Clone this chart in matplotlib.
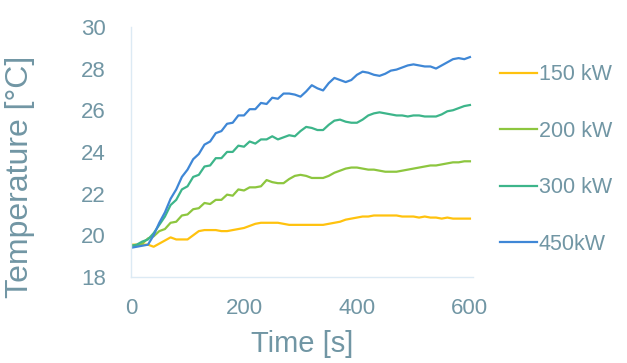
import numpy as np
import matplotlib
matplotlib.use("Agg")
import matplotlib.pyplot as plt

# time axis, seconds (read every 10 s)
t = list(range(0, 601, 10))

# temperatures in degC
temp_150 = [19.55, 19.55, 19.55, 19.55, 19.45, 19.60, 19.75, 19.90, 19.80, 19.80,
            19.80, 20.00, 20.20, 20.25, 20.25, 20.25, 20.20, 20.20, 20.25, 20.30,
            20.35, 20.45, 20.55, 20.60, 20.60, 20.60, 20.60, 20.55, 20.50, 20.50,
            20.50, 20.50, 20.50, 20.50, 20.50, 20.55, 20.60, 20.65, 20.75, 20.80,
            20.85, 20.90, 20.90, 20.95, 20.95, 20.95, 20.95, 20.95, 20.90, 20.90,
            20.90, 20.85, 20.90, 20.85, 20.85, 20.80, 20.85, 20.80, 20.80, 20.80,
            20.80]
temp_200 = [19.50, 19.50, 19.60, 19.85, 19.95, 20.20, 20.30, 20.60, 20.65, 20.95,
            21.00, 21.25, 21.30, 21.55, 21.50, 21.70, 21.70, 21.95, 21.90, 22.20,
            22.15, 22.30, 22.30, 22.35, 22.65, 22.55, 22.50, 22.50, 22.70, 22.85,
            22.90, 22.85, 22.75, 22.75, 22.75, 22.85, 23.00, 23.10, 23.20, 23.25,
            23.25, 23.20, 23.15, 23.15, 23.10, 23.05, 23.05, 23.05, 23.10, 23.15,
            23.20, 23.25, 23.30, 23.35, 23.35, 23.40, 23.45, 23.50, 23.50, 23.55,
            23.55]
temp_300 = [19.50, 19.55, 19.70, 19.80, 20.10, 20.50, 20.90, 21.45, 21.70, 22.20,
            22.35, 22.80, 22.90, 23.30, 23.35, 23.70, 23.70, 24.00, 24.00, 24.30,
            24.25, 24.50, 24.40, 24.60, 24.60, 24.75, 24.60, 24.70, 24.80, 24.75,
            25.00, 25.20, 25.15, 25.05, 25.05, 25.30, 25.50, 25.55, 25.45, 25.40,
            25.40, 25.55, 25.75, 25.85, 25.90, 25.85, 25.80, 25.75, 25.75, 25.70,
            25.75, 25.75, 25.70, 25.70, 25.70, 25.80, 25.95, 26.00, 26.10, 26.20,
            26.25]
temp_450 = [19.40, 19.45, 19.50, 19.55, 20.00, 20.60, 21.10, 21.75, 22.20, 22.80,
            23.15, 23.65, 23.90, 24.35, 24.50, 24.90, 25.00, 25.35, 25.40, 25.75,
            25.75, 26.05, 26.05, 26.35, 26.30, 26.60, 26.55, 26.80, 26.80, 26.75,
            26.65, 26.90, 27.20, 27.05, 26.95, 27.30, 27.55, 27.45, 27.35, 27.45,
            27.70, 27.85, 27.80, 27.70, 27.65, 27.75, 27.90, 27.95, 28.05, 28.15,
            28.20, 28.15, 28.10, 28.10, 28.00, 28.15, 28.30, 28.45, 28.50, 28.45,
            28.55]

labels = ["150 kW", "200 kW", "300 kW", "450kW"]
colors = ["#FFC20E", "#8DC63F", "#3DB58A", "#3F87D6"]
txt = "#7196A4"

plt.rcParams['font.family'] = ['Liberation Sans', 'DejaVu Sans']

fig = plt.figure(figsize=(6.27, 3.63), dpi=100)
ax = fig.add_axes([0.209, 0.237, 0.545, 0.689])

for y, lab, c in zip([temp_150, temp_200, temp_300, temp_450], labels, colors):
    ax.plot(t, y, color=c, lw=1.6, label=lab)

ax.set_xlim(0, 605)
ax.set_ylim(18, 30)
ax.set_xticks([0, 200, 400, 600])
ax.set_yticks(range(18, 31, 2))

for s in ["top", "right"]:
    ax.spines[s].set_visible(False)
for s in ["left", "bottom"]:
    ax.spines[s].set_color("#DCEAF4")
    ax.spines[s].set_linewidth(1.0)

ax.tick_params(length=0, labelsize=16, colors=txt, pad=18)
ax.tick_params(axis="x", pad=15)

ax.set_xlabel("Time [s]", fontsize=21, color=txt, labelpad=8)
ax.set_ylabel("Temperature [°C]", fontsize=23, color=txt)
ax.yaxis.set_label_coords(-0.28, 0.40)

leg = ax.legend(loc="upper left", bbox_to_anchor=(1.055, 0.885), frameon=False,
                fontsize=15.5, labelspacing=1.65, handlelength=1.7,
                handletextpad=0.1, borderaxespad=0)
for tx in leg.get_texts():
    tx.set_color(txt)

fig.savefig("out.png", dpi=100)
